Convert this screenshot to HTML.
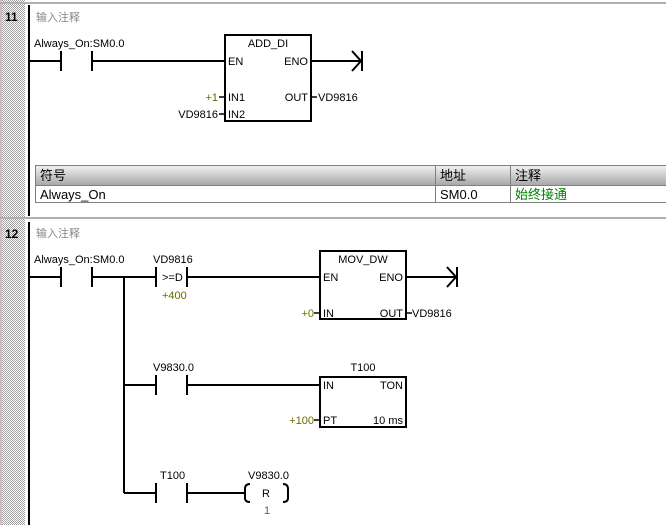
<!DOCTYPE html>
<html><head><meta charset="utf-8"><style>
html,body{margin:0;padding:0;background:#fff;}
svg{display:block;font-family:"Liberation Sans","Noto Sans CJK SC",sans-serif;font-size:11px;}
</style></head><body>
<svg width="666" height="525" xmlns="http://www.w3.org/2000/svg">
<defs>
<pattern id="h" width="2" height="2" patternUnits="userSpaceOnUse"><rect width="2" height="2" fill="#fff"/><rect width="1" height="1" fill="#a0a0a0"/><rect x="1" y="1" width="1" height="1" fill="#a0a0a0"/></pattern>
<linearGradient id="g" x1="0" y1="0" x2="0" y2="1"><stop offset="0" stop-color="#f4f4f4"/><stop offset="1" stop-color="#a8a8a8"/></linearGradient>
</defs>
<rect x="0" y="0" width="25" height="525" fill="url(#h)"/>
<rect x="0" y="0" width="2" height="525" fill="#d8b8c8"/>
<rect x="0" y="2" width="666" height="2" fill="#b0b0b0"/>
<rect x="0" y="217" width="666" height="2" fill="#b0b0b0"/>
<g fill="#000" font-weight="bold" font-size="12"><text x="5" y="21">11</text><text x="5" y="238">12</text></g>
<g fill="#888"><text x="36" y="21">输入注释</text><text x="36" y="237">输入注释</text></g>
<g stroke="#000" stroke-width="2" fill="none">
<line x1="29" y1="5" x2="29" y2="216"/><line x1="29" y1="222" x2="29" y2="525"/>
<line x1="29" y1="61" x2="61" y2="61"/><line x1="92" y1="61" x2="225" y2="61"/>
<line x1="61" y1="51" x2="61" y2="71"/><line x1="92" y1="51" x2="92" y2="71"/>
<rect x="225" y="35" width="86" height="86"/>
<line x1="311" y1="61" x2="361" y2="61"/><line x1="362" y1="51" x2="362" y2="71"/>
<polyline points="352,51 361,61 352,71"/>
<line x1="29" y1="277" x2="61" y2="277"/><line x1="92" y1="277" x2="156" y2="277"/>
<line x1="61" y1="267" x2="61" y2="287"/><line x1="92" y1="267" x2="92" y2="287"/>
<line x1="124" y1="277" x2="124" y2="493"/>
<line x1="156" y1="267" x2="156" y2="287"/><line x1="187" y1="267" x2="187" y2="287"/>
<line x1="187" y1="277" x2="320" y2="277"/>
<rect x="320" y="251" width="86" height="68"/>
<line x1="406" y1="277" x2="456" y2="277"/><line x1="457" y1="267" x2="457" y2="287"/>
<polyline points="447,267 456,277 447,287"/>
<line x1="124" y1="385" x2="156" y2="385"/>
<line x1="156" y1="375" x2="156" y2="395"/><line x1="187" y1="375" x2="187" y2="395"/>
<line x1="187" y1="385" x2="320" y2="385"/>
<rect x="320" y="377" width="86" height="50"/>
<line x1="124" y1="493" x2="156" y2="493"/>
<line x1="156" y1="483" x2="156" y2="503"/><line x1="187" y1="483" x2="187" y2="503"/>
<line x1="187" y1="493" x2="246" y2="493"/>
<path d="M250,484 Q245,484 245,489 L245,498 Q245,502 250,502"/>
<path d="M283,484 Q288,484 288,489 L288,498 Q288,502 283,502"/>
</g>
<g stroke="#000" stroke-width="1.5">
<line x1="219" y1="97" x2="225" y2="97"/><line x1="219" y1="114" x2="225" y2="114"/><line x1="311" y1="97" x2="317" y2="97"/>
<line x1="314" y1="313" x2="320" y2="313"/><line x1="406" y1="313" x2="412" y2="313"/>
<line x1="314" y1="420" x2="320" y2="420"/>
</g>
<g fill="#000">
<text x="34" y="47">Always_On:SM0.0</text>
<text x="268" y="47" text-anchor="middle">ADD_DI</text>
<text x="228" y="65">EN</text><text x="308" y="65" text-anchor="end">ENO</text>
<text x="228" y="101">IN1</text><text x="228" y="118">IN2</text>
<text x="308" y="101" text-anchor="end">OUT</text>
<text x="318" y="101">VD9816</text>
<text x="218" y="118" text-anchor="end">VD9816</text>
<text x="34" y="263">Always_On:SM0.0</text>
<text x="153" y="263">VD9816</text>
<text x="162" y="281">&gt;=D</text>
<text x="363" y="263" text-anchor="middle">MOV_DW</text>
<text x="323" y="281">EN</text><text x="403" y="281" text-anchor="end">ENO</text>
<text x="323" y="317">IN</text><text x="403" y="317" text-anchor="end">OUT</text>
<text x="412" y="317">VD9816</text>
<text x="153" y="371">V9830.0</text>
<text x="363" y="371" text-anchor="middle">T100</text>
<text x="323" y="389">IN</text><text x="403" y="389" text-anchor="end">TON</text>
<text x="323" y="424">PT</text><text x="403" y="424" text-anchor="end">10 ms</text>
<text x="160" y="479">T100</text>
<text x="248" y="479">V9830.0</text>
<text x="262" y="497">R</text>
</g>
<g fill="#6b6b00">
<text x="218" y="101" text-anchor="end">+1</text>
<text x="162" y="299">+400</text>
<text x="314" y="317" text-anchor="end">+0</text>
<text x="314" y="424" text-anchor="end">+100</text>
<text x="264" y="514">1</text>
</g>
<rect x="35" y="165" width="631" height="20" fill="url(#g)"/>
<g stroke="#808080" stroke-width="1" fill="none">
<line x1="35.5" y1="165" x2="35.5" y2="203"/>
<line x1="35" y1="165.5" x2="666" y2="165.5"/>
<line x1="35" y1="185.5" x2="666" y2="185.5"/>
<line x1="35" y1="202.5" x2="666" y2="202.5"/>
<line x1="435.5" y1="165" x2="435.5" y2="203"/>
<line x1="510.5" y1="165" x2="510.5" y2="203"/>
</g>
<g fill="#000" font-size="13"><text x="40" y="180">符号</text><text x="440" y="180">地址</text><text x="515" y="180">注释</text>
<text x="40" y="199">Always_On</text><text x="440" y="199">SM0.0</text></g>
<text x="515" y="199" fill="#008000" font-size="13">始终接通</text>
</svg>
</body></html>
